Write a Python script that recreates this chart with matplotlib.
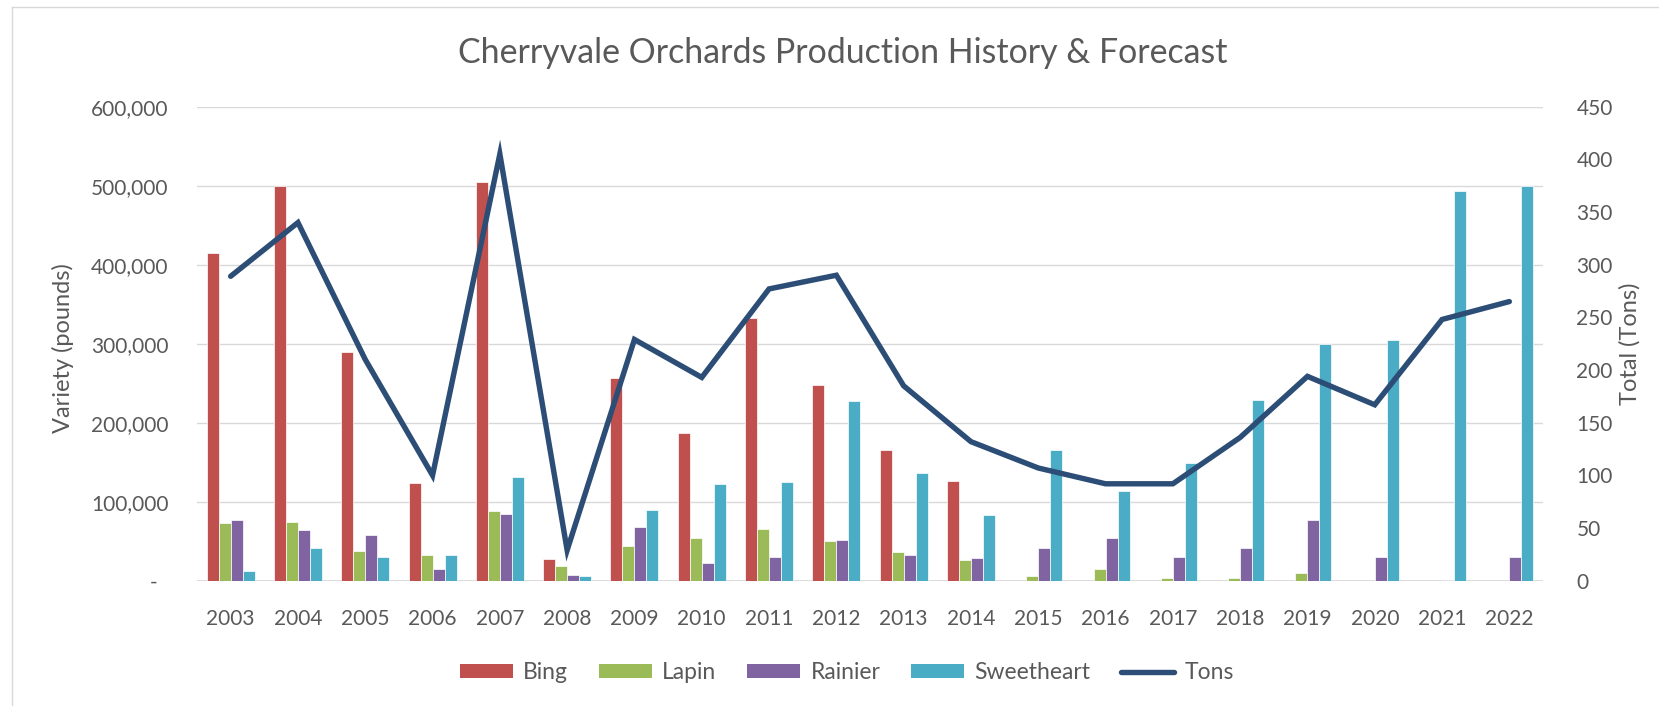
import numpy as np
import matplotlib
matplotlib.use('Agg')
import matplotlib.pyplot as plt
from matplotlib.lines import Line2D
from matplotlib.patches import Patch
from matplotlib.ticker import FuncFormatter

plt.rcParams['font.family'] = ['Lato', 'DejaVu Sans']

years = [str(y) for y in range(2003, 2023)]

# pounds per variety
bing = [415000, 499000, 290000, 123500, 505000, 27000, 257000, 187000, 332500, 247500,
        165500, 126500, 0, 0, 0, 0, 0, 0, 0, 0]
lapin = [72500, 74500, 37500, 32000, 88500, 19000, 44500, 54500, 65000, 50500,
         36500, 26000, 6000, 15000, 3500, 3000, 10000, 0, 0, 0]
rainier = [77000, 64500, 58000, 15000, 84500, 7000, 67500, 22000, 29500, 51000,
           32000, 28500, 41500, 54500, 30000, 41000, 77000, 30000, 1500, 29500]
sweetheart = [12500, 41500, 29500, 32000, 131000, 6000, 89500, 122500, 124500, 227500,
              136500, 83000, 165500, 114000, 149000, 228500, 299500, 304500, 493500, 499500]

# total tons (right axis)
tons = [289, 340, 210, 100, 405, 29, 229, 193, 277, 290,
        185, 132, 107, 92, 92, 136, 194, 167, 248, 265]

series = [('Bing', bing, '#C0504D'),
          ('Lapin', lapin, '#9BBB59'),
          ('Rainier', rainier, '#8064A2'),
          ('Sweetheart', sweetheart, '#4BACC6')]
line_color = '#2C4D76'
txt = '#595959'
grid_c = '#D9D9D9'

W, H = 1659, 706
fig = plt.figure(figsize=(W / 100, H / 100), dpi=100)
ax = fig.add_axes([197 / W, 1 - 580.7 / H, (1543 - 197) / W, (580.7 - 106.7) / H])
ax2 = ax.twinx()

x = np.arange(len(years))
bw = 0.178
for i, (name, vals, col) in enumerate(series):
    ax.bar(x + (i - 1.5) * bw, vals, bw, color=col, edgecolor='white', linewidth=0.5, zorder=2)

ax2.plot(x, tons, color=line_color, lw=3.9, solid_joinstyle='miter', solid_capstyle='round', zorder=3)

ax.set_xlim(-0.5, len(years) - 0.5)
ax.set_ylim(0, 600000)
ax.set_yticks(np.arange(0, 600001, 100000))
ax.yaxis.set_major_formatter(FuncFormatter(lambda v, p: '-  ' if v == 0 else f'{int(v):,}'))
ax2.set_ylim(0, 450)
ax2.set_yticks(np.arange(0, 451, 50))

ax.set_xticks(x)
ax.set_xticklabels(years)

ax.grid(axis='y', color=grid_c, lw=1.0, zorder=0)
ax.set_axisbelow(True)
for a in (ax, ax2):
    for s in a.spines.values():
        s.set_visible(False)
ax.axhline(0, color=grid_c, lw=1.3, zorder=1)

ax.tick_params(axis='y', length=0, pad=20.5, labelsize=15, labelcolor=txt)
ax.tick_params(axis='x', length=0, pad=20.5, labelsize=15, labelcolor=txt)
ax2.tick_params(axis='y', length=0, pad=24, labelsize=15, labelcolor=txt)

fig.text(843 / W, 1 - 63.3 / H, 'Cherryvale Orchards Production History & Forecast',
         ha='center', va='baseline', fontsize=24.4, color=txt)
fig.text(63 / W, 1 - 348 / H, 'Variety (pounds)', rotation=90, ha='center', va='center',
         fontsize=17, color=txt)
fig.text(1630 / W, 1 - 344 / H, 'Total (Tons)', rotation=90, ha='center', va='center',
         fontsize=17, color=txt)

handles = [Patch(facecolor=c, label=n) for n, _, c in series]
handles.append(Line2D([0], [0], color=line_color, lw=3.9, solid_capstyle='round', label='Tons'))
leg = fig.legend(handles=handles, loc='center', bbox_to_anchor=(847 / W, 1 - 672.7 / H),
                 ncol=5, frameon=False, fontsize=16.5, handlelength=2.3, handleheight=0.57,
                 handletextpad=0.45, columnspacing=1.35)
for t in leg.get_texts():
    t.set_color(txt)

# chart area border (left and top edges visible)
fig.add_artist(Line2D([11.7 / W, 11.7 / W], [0, 1 - 7.3 / H], color=grid_c, lw=1.0))
fig.add_artist(Line2D([11.7 / W, 1], [1 - 7.3 / H, 1 - 7.3 / H], color=grid_c, lw=1.0))

fig.savefig('out.png', dpi=100)
